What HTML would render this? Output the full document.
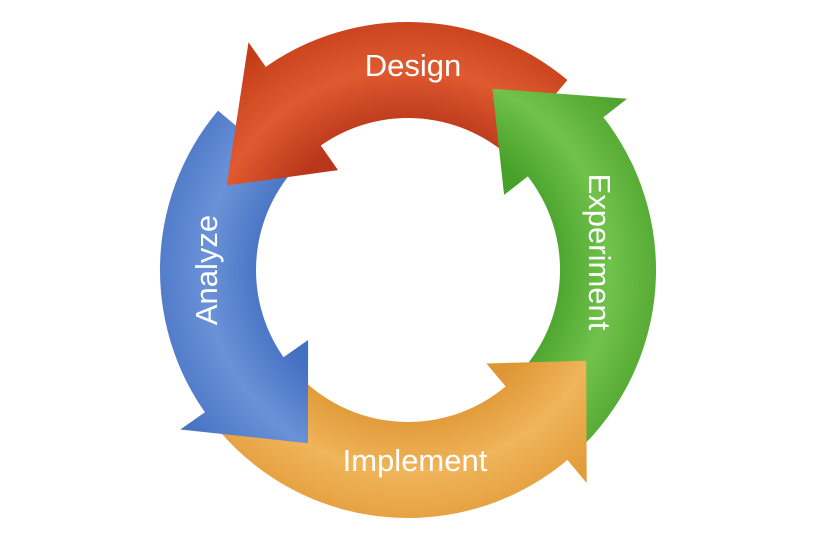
<!DOCTYPE html>
<html><head><meta charset="utf-8"><style>
html,body{margin:0;padding:0;background:#fff;width:820px;height:535px;overflow:hidden}
svg{display:block}
text{font-family:"Liberation Sans",sans-serif;fill:#fff;font-size:31px}
</style></head><body>
<svg id="s" width="820" height="535" viewBox="0 0 820 535">
<defs>
<radialGradient id="gr" gradientUnits="userSpaceOnUse" cx="408" cy="270" r="280"><stop offset="0.5" stop-color="#b8361a"/><stop offset="0.72" stop-color="#e05a30"/><stop offset="0.95" stop-color="#c23c18"/></radialGradient>
<radialGradient id="gg" gradientUnits="userSpaceOnUse" cx="408" cy="270" r="280"><stop offset="0.5" stop-color="#46a02a"/><stop offset="0.72" stop-color="#70c24a"/><stop offset="0.95" stop-color="#4ea42e"/></radialGradient>
<radialGradient id="go" gradientUnits="userSpaceOnUse" cx="408" cy="270" r="280"><stop offset="0.5" stop-color="#de9634"/><stop offset="0.72" stop-color="#f0b45a"/><stop offset="0.95" stop-color="#e29c3a"/></radialGradient>
<radialGradient id="gb" gradientUnits="userSpaceOnUse" cx="408" cy="270" r="280"><stop offset="0.5" stop-color="#4470c0"/><stop offset="0.72" stop-color="#6a92d8"/><stop offset="0.95" stop-color="#4a74c4"/></radialGradient>
</defs>
<g id="bodies"></g><g id="heads"></g>
<text x="413" y="76" text-anchor="middle">Design</text>
<text x="415" y="471" text-anchor="middle">Implement</text>
<text transform="translate(589,252) rotate(90)" text-anchor="middle">Experiment</text>
<text transform="translate(217,270) rotate(-90)" text-anchor="middle">Analyze</text>
</svg>
<script>
var cx=408,cy=270,ri=152,ro=248,hi=122,ho=278,rm=200;
function p(r,a){a=a*Math.PI/180;return (cx+r*Math.cos(a)).toFixed(1)+","+(cy+r*Math.sin(a)).toFixed(1);}
var arrows=[["gr",-50,-125,-155],["gg",45,-38,-65],["go",140,50,27],["gb",-140,-215,-240]];
var B="",H="";
arrows.forEach(function(a){
 var f="url(#"+a[0]+")";
 var e=a[2]-4;
 B+='<path fill="'+f+'" d="M'+p(ro,a[1])+' A'+ro+','+ro+' 0 0 0 '+p(ro,e)+' L'+p(ri,e)+' A'+ri+','+ri+' 0 0 1 '+p(ri,a[1])+' Z"/>';
 H+='<path fill="'+f+'" d="M'+p(ho,a[2])+' L'+p(rm,a[3])+' L'+p(hi,a[2])+' Z"/>';
});
document.getElementById("bodies").innerHTML=B;
document.getElementById("heads").innerHTML=H;
</script>
</body></html>
